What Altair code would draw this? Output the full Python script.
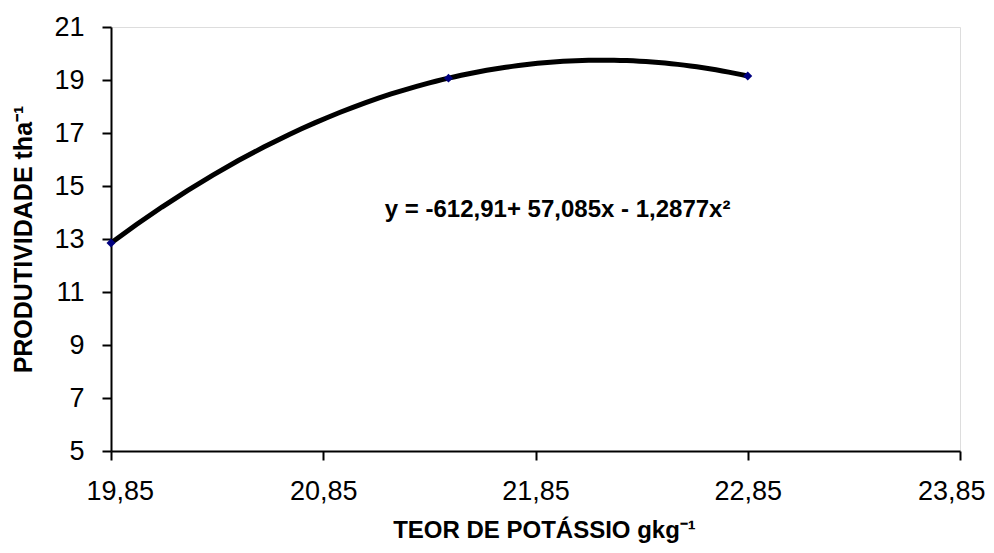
import altair as alt
import pandas as pd

# data
teor = [19.85, 21.44, 22.85]
produtividade = [12.85, 19.07, 19.15]
x_ticks = [19.85, 20.85, 21.85, 22.85, 23.85]
y_ticks = [5, 7, 9, 11, 13, 15, 17, 19, 21]
equation = ["y = -612,91+ 57,085x - 1,2877x²"]
eq_pos_x = [21.14]
eq_pos_y = [14.1]

df = pd.DataFrame({"x": teor, "y": produtividade})
eq_df = pd.DataFrame({"x": eq_pos_x, "y": eq_pos_y, "t": equation})

FONT = "Liberation Sans"

xscale = alt.Scale(domain=[19.85, 23.85], nice=False, zero=False)
yscale = alt.Scale(domain=[5, 21], nice=False, zero=False)

xaxis = alt.Axis(
    values=x_ticks,
    labelExpr="replace(format(datum.value, '.2f'), '.', ',')",
    title="TEOR DE POTÁSSIO gkg⁻¹",
    grid=False, labelFlush=True, labelFlushOffset=25,
    domainColor="black", domainWidth=2,
    tickColor="black", tickWidth=2, tickSize=9,
    labelFont=FONT, labelFontSize=27, labelColor="black", labelPadding=18,
    titleFont=FONT, titleFontSize=24, titleFontWeight="bold", titleColor="black",
    titlePadding=14, titleX=433,
)
yaxis = alt.Axis(
    values=y_ticks,
    title="PRODUTIVIDADE tha⁻¹",
    grid=False, labelFlush=False,
    domainColor="black", domainWidth=2,
    tickColor="black", tickWidth=2, tickSize=9,
    labelFont=FONT, labelFontSize=27, labelColor="black", labelPadding=18,
    titleFont=FONT, titleFontSize=25, titleFontWeight="bold", titleColor="black",
    titlePadding=17,
)

base = alt.Chart(df)

curve = base.transform_regression(
    "x", "y", method="poly", order=2
).mark_line(color="black", strokeWidth=5).encode(
    x=alt.X("x:Q", scale=xscale, axis=xaxis),
    y=alt.Y("y:Q", scale=yscale, axis=yaxis),
)

points = base.mark_point(
    shape="diamond", filled=True, color="#000080", size=80, opacity=1
).encode(
    x=alt.X("x:Q", scale=xscale),
    y=alt.Y("y:Q", scale=yscale),
)

label = alt.Chart(eq_df).mark_text(
    align="left", baseline="middle", font=FONT, fontSize=24, fontWeight="bold",
    color="black"
).encode(
    x=alt.X("x:Q", scale=xscale),
    y=alt.Y("y:Q", scale=yscale),
    text="t:N",
)

chart = (curve + points + label).properties(
    width=849, height=424,
    autosize=alt.AutoSizeParams(type="none"),
    padding={"left": 103, "top": 19, "right": 26, "bottom": 94},
).configure_view(stroke=None).configure(background="white")

chart.save("out.html", embed_options={"renderer": "svg", "actions": False})
